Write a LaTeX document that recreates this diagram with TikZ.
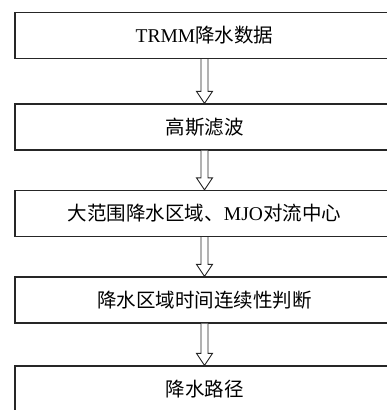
\documentclass[tikz,border=0pt]{standalone}
\usepackage{fontspec}
\setmainfont{Liberation Serif}
\newfontfamily\cjk{Noto Sans CJK SC}
\usetikzlibrary{calc}
\begin{document}
\begin{tikzpicture}[x=1pt,y=1pt,
  stepbox/.style={draw=black!85, line width=1.2pt, minimum width=379pt, minimum height=46pt, inner sep=0pt, font=\fontsize{19.5}{20}\selectfont},
  blockarrow/.style={draw=black!85, line width=0.9pt, fill=white, line join=miter}]
\useasboundingbox (0,0) rectangle (387,410);
\clip (0,0) rectangle (387,410);
\node[stepbox] (b1) at (204.5,374.5) {TRMM{\cjk 降水数据}};
\node[stepbox] (b2) at (204.5,283) {{\cjk 高斯滤波}};
\node[stepbox] (b3) at (204.5,196.5) {{\cjk 大范围降水区域、}MJO{\cjk 对流中心}};
\node[stepbox] (b4) at (204.5,110) {{\cjk 降水区域时间连续性判断}};
\node[stepbox] (b5) at (204.5,21) {{\cjk 降水路径}};
\foreach \a/\b in {b1/b2,b2/b3,b3/b4,b4/b5} {
  \draw[blockarrow] ($(\a.south)+(-3.5,0)$) -- ($(\b.north)+(-3.5,12)$) -- ($(\b.north)+(-8,12)$) -- (\b.north) -- ($(\b.north)+(8,12)$) -- ($(\b.north)+(3.5,12)$) -- ($(\a.south)+(3.5,0)$);
}
\end{tikzpicture}
\end{document}
